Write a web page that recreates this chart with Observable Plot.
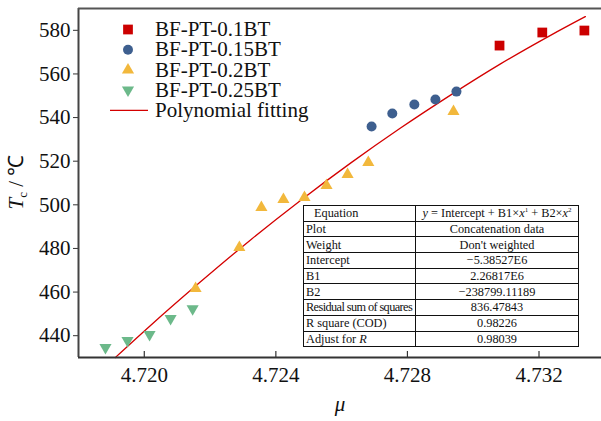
<!DOCTYPE html>
<html><head><meta charset="utf-8">
<script src="https://cdn.jsdelivr.net/npm/d3@7"></script>
<script src="https://cdn.jsdelivr.net/npm/@observablehq/plot@0.6"></script>
<style>
body{margin:0;background:#fff;}
#wrap{position:relative;width:601px;height:421px;font-family:"Liberation Serif","Times New Roman",serif;}
#wrap svg text{font-family:"Liberation Serif","Times New Roman",serif !important;}
#tbl{position:absolute;left:303px;top:205px;width:275px;border-collapse:collapse;table-layout:fixed;background:#fff;font-size:12.3px;color:#111;}
#tbl td{border:1px solid #111;padding:0 2px;height:14.7px;line-height:14px;white-space:nowrap;overflow:hidden;}
#tbl td.v{text-align:center;}
#tbl sup{font-size:7px;line-height:0;vertical-align:5px;}
</style></head>
<body>
<div id="wrap"></div>
<script>
// ---- data ----
const seriesNames = ["BF-PT-0.1BT", "BF-PT-0.15BT", "BF-PT-0.2BT", "BF-PT-0.25BT"];
const seriesColors = ["#cc0000", "#3e5f8f", "#f2b83c", "#6cb98a"];
const mu01 = [4.73080, 4.73210, 4.73338];
const tc01 = [573.0, 579.0, 579.9];
const mu015 = [4.72691, 4.72754, 4.72821, 4.72885, 4.72949];
const tc015 = [535.9, 541.9, 546.0, 548.3, 551.9];
const mu02 = [4.72156, 4.72289, 4.72356, 4.72423, 4.72487, 4.72554, 4.72618, 4.72681, 4.72940];
const tc02 = [461.6, 480.4, 498.8, 502.4, 503.3, 508.8, 513.9, 519.4, 542.8];
const mu025 = [4.71882, 4.71949, 4.72016, 4.72080, 4.72147];
const tc025 = [434.6, 437.8, 440.5, 447.9, 452.4];
const fitMu = [4.71912, 4.72019, 4.72171, 4.72323, 4.72475, 4.72627, 4.72779, 4.72931, 4.73083, 4.73235, 4.73341];
const fitTc = [430.0, 444.7, 464.7, 483.9, 502.0, 519.1, 535.2, 550.3, 564.6, 577.7, 586.3];
const fitLabel = "Polynomial fitting";
const xTicks = [4.720, 4.724, 4.728, 4.732];
const yTicks = [440, 460, 480, 500, 520, 540, 560, 580];
const xDomain = [4.718, 4.7339];
const yDomain = [430, 590];
const tableNames = ["Plot", "Weight", "Intercept", "B1", "B2", "Residual sum of squares", "R square (COD)"];
const tableValues = ["Concatenation data", "Don't weighted", "\u22125.38527E6", "2.26817E6", "\u2212238799.11189", "836.47843", "0.98226"];
const adjustValue = "0.98039";

const serif = "'Liberation Serif','Times New Roman',serif";
const pts = (mu, tc) => mu.map((m, i) => ({mu: m, tc: tc[i]}));
const fit = pts(fitMu, fitTc);

const plot = Plot.plot({
  width: 601, height: 421,
  marginLeft: 78, marginRight: 0, marginTop: 8, marginBottom: 64,
  style: {fontFamily: serif, fontSize: "21px", color: "#111", background: "#fff"},
  x: {domain: xDomain},
  y: {domain: yDomain},
  marks: [
    Plot.line(fit, {x: "mu", y: "tc", stroke: "#d40000", strokeWidth: 1.3, curve: "monotone-x"}),
    Plot.dot(pts(mu01, tc01), {x: "mu", y: "tc", symbol: "square", r: 5.5, fill: seriesColors[0]}),
    Plot.dot(pts(mu015, tc015), {x: "mu", y: "tc", symbol: "circle", r: 5, fill: seriesColors[1]}),
    Plot.dot(pts(mu02, tc02), {x: "mu", y: "tc", symbol: "triangle", r: 4.5, fill: seriesColors[2]}),
    Plot.dot(pts(mu025, tc025), {x: "mu", y: "tc", symbol: "triangle", r: 4.5, rotate: 180, fill: seriesColors[3]}),
    Plot.axisX({ticks: xTicks, tickFormat: d3.format(".3f"), tickSize: 0, tickPadding: 10, label: null, fontFamily: serif, fontSize: 21}),
    Plot.tickX(xTicks, {x: d => d, insetTop: 343, stroke: "#333", strokeWidth: 1.2}),
    Plot.axisY({ticks: yTicks, tickSize: 5, tickPadding: 3, label: null, stroke: "#333", fontFamily: serif, fontSize: 21}),
    Plot.ruleX([xDomain[0]], {stroke: "#444", strokeWidth: 2}),
    Plot.ruleY([yDomain[0]], {stroke: "#333", strokeWidth: 2}),
    Plot.ruleY([yDomain[1]], {stroke: "#555", strokeWidth: 2})
  ]
});
const wrap = document.getElementById("wrap");
wrap.appendChild(plot);

const svg = d3.select(plot);
// axis labels
const yl = svg.append("text").attr("transform", "translate(23,182) rotate(-90)")
  .attr("text-anchor", "middle").attr("font-size", 21).attr("font-family", serif).attr("fill", "#111");
yl.append("tspan").attr("font-style", "italic").text("T");
yl.append("tspan").attr("font-size", 13).attr("dy", 4).text("c");
yl.append("tspan").attr("dy", -4).text(" / \u2103");
svg.append("text").attr("x", 340).attr("y", 411).attr("text-anchor", "middle").attr("font-family", serif)
  .attr("font-size", 21).attr("font-style", "italic").attr("fill", "#111").text("\u03bc");

// legend
const symTypes = [d3.symbolSquare, d3.symbolCircle, d3.symbolTriangle, d3.symbolTriangle];
const symSizes = [95, 78, 64, 64];
const lg = svg.append("g").attr("font-size", 21).attr("font-family", serif).attr("text-anchor", "start").attr("fill", "#111");
const rowY = i => 29.5 + i * 20.2;
seriesNames.forEach((name, i) => {
  lg.append("path").attr("d", d3.symbol(symTypes[i], symSizes[i])())
    .attr("transform", `translate(128,${rowY(i)})${i === 3 ? " rotate(180)" : ""}`)
    .attr("fill", seriesColors[i]);
  lg.append("text").attr("x", 155).attr("y", rowY(i)).attr("dy", "0.32em").text(name);
});
lg.append("line").attr("x1", 110).attr("x2", 148).attr("y1", rowY(4)).attr("y2", rowY(4))
  .attr("stroke", "#d40000").attr("stroke-width", 1.3);
lg.append("text").attr("x", 155).attr("y", rowY(4)).attr("dy", "0.32em").text(fitLabel);

// parameter table
const tbl = document.createElement("table");
tbl.id = "tbl";
let html = '<colgroup><col style="width:112px"><col style="width:163px"></colgroup>';
html += '<tr><td style="padding-left:10px">Equation</td><td class="v"><i>y</i> = Intercept + B1\u00d7<i>x</i><sup>1</sup> + B2\u00d7<i>x</i><sup>2</sup></td></tr>';
tableNames.forEach((n, i) => {
  const st = n.length > 20 ? ' style="letter-spacing:-0.6px"' : '';
  html += `<tr><td${st}>${n}</td><td class="v">${tableValues[i]}</td></tr>`;
});
html += `<tr><td>Adjust for <i>R</i></td><td class="v">${adjustValue}</td></tr>`;
tbl.innerHTML = html;
wrap.appendChild(tbl);
</script>
</body></html>
